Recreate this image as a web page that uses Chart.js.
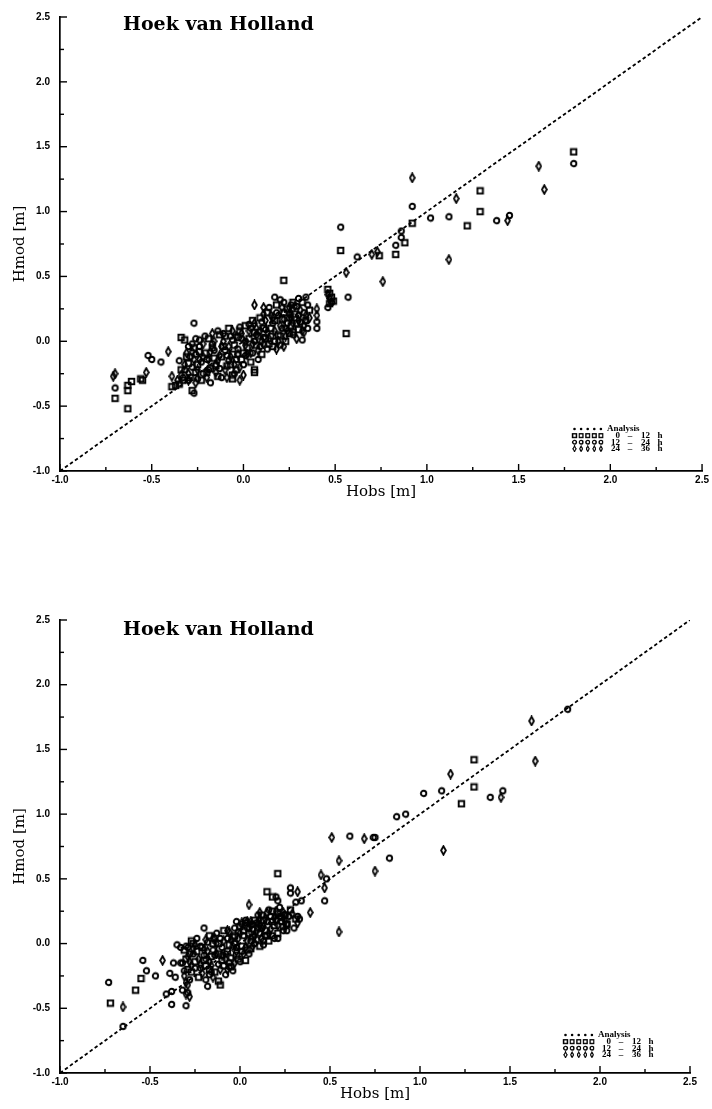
<!DOCTYPE html>
<html>
<head>
<meta charset="utf-8">
<script src="https://cdn.jsdelivr.net/npm/chart.js@4.4.1/dist/chart.umd.min.js"></script>
<style>
  html, body { margin: 0; padding: 0; background: #fff; }
  body { width: 712px; height: 1109px; position: relative; overflow: hidden; }
  .panel { position: absolute; left: 0; width: 712px; }
  #panelA { top: 0; height: 545px; }
  #panelB { top: 545px; height: 564px; }
  canvas { display: block; }
</style>
</head>
<body>
<div class="panel" id="panelA"><canvas id="chartA" width="712" height="545"></canvas></div>
<div class="panel" id="panelB"><canvas id="chartB" width="712" height="564"></canvas></div>
<script>
// ---- Station, axes and legend text ----
const stationName = 'Hoek van Holland';
const xAxisTitle = 'Hobs [m]';
const yAxisTitle = 'Hmod [m]';
const axisMin = -1.0;
const axisMax = 2.5;
const majorStep = 0.5;
const minorStep = 0.25;
const analysisLabel = 'Analysis';
const leadTimes = [[0, 12], [12, 24], [24, 36]];   // forecast windows in hours

// ---- Upper panel: observed vs modelled surge [m], pairs of [Hobs, Hmod] ----
const upperLead0to12 = [
  [1.80,1.46],[1.29,1.16],[1.29,1.00],[1.22,0.89],[0.92,0.91],[0.88,0.76],[0.83,0.67],[0.53,0.70],
  [0.74,0.66],[0.22,0.47],[0.56,0.06],[0.46,0.40],[0.47,0.37],[0.48,0.34],[0.49,0.31],[0.47,0.29],
  [0.27,0.07],[-0.70,-0.44],[-0.63,-0.34],[-0.61,-0.31],[-0.63,-0.38],[-0.63,-0.52],[-0.56,-0.29],
  [-0.55,-0.30],[-0.39,-0.35],[-0.37,-0.34],[-0.35,-0.33],[-0.28,-0.38],[-0.34,0.03],[-0.32,0.01],
  [0.06,-0.22],[0.06,-0.24],[-0.06,-0.26],[-0.06,-0.29],
  [-0.34,-0.22],[-0.31,-0.12],[-0.29,-0.28],[-0.27,-0.05],[-0.25,-0.18],[-0.23,-0.30],[-0.21,-0.09],
  [-0.19,0.02],[-0.18,-0.21],[-0.16,-0.13],[-0.14,-0.27],[-0.13,0.05],[-0.11,-0.04],[-0.09,-0.19],
  [-0.08,0.10],[-0.06,-0.10],[-0.04,-0.22],[-0.03,0.03],[-0.01,-0.14],[0.01,0.12],[0.02,-0.05],
  [0.04,-0.16],[0.06,0.07],[0.07,-0.03],[0.09,0.18],[0.10,-0.10],[0.12,0.02],[0.13,0.22],[0.15,0.10],
  [0.16,-0.04],[0.18,0.28],[0.19,0.05],[0.21,0.17],[0.23,0.00],[0.24,0.25],[0.26,0.12],[0.28,0.21],
  [0.30,0.09],[0.32,0.30],[0.34,0.16],
  [-0.33,-0.30],[-0.30,-0.17],[-0.26,-0.24],[-0.24,-0.08],[-0.20,-0.24],[-0.17,-0.05],[-0.15,-0.19],
  [-0.12,-0.12],[-0.10,0.04],[-0.07,-0.18],[-0.05,-0.03],[-0.02,0.08],[0.00,-0.09],[0.03,0.02],
  [0.05,0.16],[0.08,0.04],[0.11,0.10],[0.14,-0.02],[0.17,0.16],[0.20,0.04],[0.22,0.22],[0.25,0.06],
  [0.27,0.30],[0.29,0.14],[0.36,0.24]
];
const upperLead12to24 = [
  [1.80,1.37],[0.92,1.04],[1.12,0.96],[1.02,0.95],[1.38,0.93],[1.45,0.97],[0.86,0.85],[0.86,0.80],
  [0.83,0.74],[0.53,0.88],[0.62,0.65],[0.57,0.34],[-0.27,0.14],[-0.26,0.02],[-0.28,-0.02],[-0.24,-0.04],
  [-0.52,-0.11],[-0.50,-0.14],[-0.45,-0.16],[-0.70,-0.36],[0.17,0.34],[0.20,0.32],[0.30,0.33],[0.34,0.34],
  [0.40,0.15],[0.40,0.10],[0.32,0.01],[-0.30,-0.30],[-0.27,-0.40],[-0.18,-0.32],[0.46,0.26],[0.48,0.30],
  [-0.35,-0.15],[-0.33,-0.28],[-0.30,-0.04],[-0.28,-0.20],[-0.26,-0.10],[-0.24,0.01],[-0.22,-0.25],
  [-0.20,-0.14],[-0.17,-0.02],[-0.15,-0.18],[-0.14,0.08],[-0.12,-0.28],[-0.10,-0.07],[-0.08,-0.15],
  [-0.07,0.04],[-0.05,-0.25],[-0.03,-0.06],[-0.02,0.11],[0.00,-0.18],[0.01,0.00],[0.03,0.13],[0.05,-0.09],
  [0.07,0.05],[0.08,-0.14],[0.10,0.15],[0.11,0.03],[0.13,-0.06],[0.14,0.26],[0.16,0.14],[0.17,0.00],
  [0.19,0.20],[0.20,-0.03],[0.22,0.30],[0.23,0.10],[0.25,0.18],[0.27,0.05],[0.29,0.27],[0.31,0.15],
  [0.33,0.22],[0.35,0.10],
  [-0.32,-0.22],[-0.29,-0.12],[-0.25,-0.29],[-0.23,-0.16],[-0.21,0.04],[-0.19,-0.22],[-0.16,-0.07],
  [-0.13,-0.21],[-0.11,0.06],[-0.09,-0.11],[-0.06,0.01],[-0.04,-0.14],[-0.01,0.02],[0.01,-0.11],
  [0.04,0.10],[0.06,0.00],[0.09,-0.04],[0.12,0.09],[0.15,0.04],[0.18,0.22],[0.21,0.10],[0.24,0.14],
  [0.26,0.28],[0.30,0.20],[0.35,0.28]
];
const upperLead24to36 = [
  [1.61,1.35],[1.64,1.17],[0.92,1.26],[1.16,1.10],[1.44,0.93],[0.70,0.67],[0.73,0.69],[1.12,0.63],
  [0.56,0.53],[0.76,0.46],[0.06,0.28],[-0.41,-0.08],[-0.70,-0.25],[-0.71,-0.27],[-0.53,-0.24],[-0.39,-0.27],
  [-0.30,-0.30],[0.40,0.25],[0.40,0.20],[0.34,0.20],[0.34,0.16],[0.32,0.08],[0.22,-0.04],[0.26,0.21],
  [0.26,0.18],[0.11,0.26],[0.11,0.21],[0.25,0.26],[0.33,0.12],[-0.02,-0.30],[0.47,0.33],[0.46,0.36],
  [-0.36,-0.30],[-0.32,-0.18],[-0.30,-0.25],[-0.28,-0.08],[-0.26,-0.32],[-0.24,-0.14],[-0.22,-0.02],
  [-0.20,-0.28],[-0.18,-0.08],[-0.17,0.06],[-0.15,-0.24],[-0.13,-0.11],[-0.11,0.00],[-0.10,-0.22],
  [-0.08,-0.04],[-0.06,0.08],[-0.05,-0.18],[-0.03,-0.10],[-0.01,0.06],[0.00,-0.26],[0.02,-0.10],[0.03,0.08],
  [0.05,-0.02],[0.06,0.14],[0.08,-0.07],[0.09,0.08],[0.11,-0.02],[0.12,0.16],[0.14,0.02],[0.15,0.20],
  [0.17,0.08],[0.18,-0.06],[0.20,0.12],[0.21,0.26],[0.23,0.04],[0.25,0.21],[0.27,0.14],[0.29,0.02],
  [0.31,0.24],[0.33,0.07],
  [-0.34,-0.26],[-0.31,-0.09],[-0.27,-0.14],[-0.25,-0.22],[-0.22,-0.12],[-0.19,-0.14],[-0.16,0.00],
  [-0.14,-0.15],[-0.12,-0.04],[-0.09,-0.28],[-0.07,-0.12],[-0.04,0.04],[-0.02,-0.20],[0.01,-0.03],
  [0.04,-0.09],[0.07,0.10],[0.10,0.00],[0.13,0.07],[0.16,0.18],[0.19,0.00],[0.22,0.17],[0.24,0.08],
  [0.28,0.27],[0.30,0.16],[0.36,0.18]
];

// ---- Lower panel: observed vs modelled surge [m], pairs of [Hobs, Hmod] ----
const lowerLead0to12 = [
  [1.30,1.42],[1.30,1.21],[1.23,1.08],[0.21,0.54],[-0.55,-0.27],[-0.58,-0.36],[-0.72,-0.46],[-0.12,-0.29],
  [-0.11,-0.32],[0.25,0.22],[0.18,0.36],[0.15,0.40],[-0.26,0.00],[0.26,0.15],
  [-0.31,-0.05],[-0.29,-0.20],[-0.27,0.02],[-0.25,-0.14],[-0.23,-0.26],[-0.21,-0.03],[-0.19,-0.17],
  [-0.17,0.06],[-0.16,-0.10],[-0.14,-0.22],[-0.12,0.00],[-0.10,-0.13],[-0.09,0.10],[-0.07,-0.06],
  [-0.05,-0.18],[-0.04,0.05],[-0.02,-0.09],[0.00,0.13],[0.01,-0.02],[0.03,-0.13],[0.05,0.08],[0.06,-0.04],
  [0.08,0.18],[0.09,0.03],[0.11,-0.02],[0.12,0.22],[0.14,0.10],[0.16,0.02],[0.18,0.25],[0.19,0.14],
  [0.21,0.08],[0.23,0.20],[0.26,0.15],[0.28,0.26],[0.31,0.19],
  [-0.30,-0.12],[-0.27,-0.22],[-0.24,-0.06],[-0.20,-0.13],[-0.17,-0.20],[-0.15,0.00],[-0.12,-0.08],
  [-0.09,-0.17],[-0.06,-0.01],[-0.03,0.06],[-0.01,-0.12],[0.02,0.10],[0.04,-0.05],[0.07,0.05],
  [0.10,0.12],[0.13,0.18],[0.15,0.06],[0.18,0.17],[0.21,0.23],[0.24,0.13]
];
const lowerLead12to24 = [
  [1.82,1.81],[1.02,1.16],[1.12,1.18],[1.39,1.13],[1.46,1.18],[0.92,1.00],[0.87,0.98],[0.61,0.83],
  [0.74,0.82],[0.75,0.82],[0.83,0.66],[0.48,0.50],[0.47,0.33],[0.20,0.36],[0.21,0.33],[0.28,0.43],
  [0.28,0.39],[0.31,0.32],[0.34,0.33],[0.32,0.21],[0.33,0.19],[0.22,0.21],[0.25,0.22],[0.26,0.15],
  [0.26,0.10],[0.21,0.04],[0.19,0.04],[0.13,0.02],[-0.02,0.17],[0.01,0.15],[0.03,0.16],[0.07,0.15],
  [-0.20,0.12],[-0.35,-0.01],[-0.33,-0.03],[-0.29,-0.03],[-0.54,-0.13],[-0.52,-0.21],[-0.47,-0.25],
  [-0.37,-0.15],[-0.33,-0.15],[-0.39,-0.23],[-0.36,-0.26],[-0.73,-0.30],[-0.41,-0.39],[-0.38,-0.37],
  [-0.38,-0.47],[-0.30,-0.48],[-0.65,-0.64],[-0.32,-0.36],[-0.29,-0.38],[-0.19,-0.28],[-0.18,-0.33],
  [-0.04,-0.21],[-0.06,-0.18],
  [-0.32,-0.15],[-0.30,-0.02],[-0.28,-0.28],[-0.26,-0.08],[-0.24,0.04],[-0.22,-0.19],[-0.20,-0.09],
  [-0.18,0.01],[-0.17,-0.24],[-0.15,-0.05],[-0.13,0.08],[-0.12,-0.16],[-0.10,-0.03],[-0.08,-0.24],
  [-0.07,0.04],[-0.05,-0.11],[-0.03,0.12],[-0.02,-0.03],[0.00,-0.14],[0.02,0.06],[0.03,0.18],[0.05,-0.08],
  [0.07,0.11],[0.08,0.00],[0.10,0.22],[0.11,0.08],[0.13,-0.01],[0.15,0.17],[0.16,0.26],[0.18,0.06],
  [0.20,0.18],[0.22,0.28],[0.24,0.10],[0.27,0.21],[0.30,0.12],
  [-0.31,-0.21],[-0.28,-0.08],[-0.25,-0.19],[-0.22,-0.02],[-0.19,-0.12],[-0.16,-0.22],[-0.14,-0.09],
  [-0.11,0.04],[-0.08,-0.08],[-0.06,-0.15],[-0.03,0.00],[-0.01,0.09],[0.01,-0.06],[0.04,0.12],
  [0.06,0.02],[0.09,0.16],[0.12,0.12],[0.14,0.06],[0.17,0.21],[0.23,0.17]
];
const lowerLead24to36 = [
  [1.62,1.72],[1.64,1.41],[1.17,1.31],[1.45,1.13],[1.13,0.72],[0.51,0.82],[0.69,0.81],[0.55,0.64],
  [0.75,0.56],[0.45,0.53],[0.47,0.43],[0.32,0.40],[0.39,0.24],[0.05,0.30],[0.06,0.17],[-0.07,0.10],
  [-0.43,-0.13],[-0.65,-0.49],[0.55,0.09],[-0.28,-0.41],[-0.30,-0.39],[-0.29,-0.32],[0.11,0.24],[0.11,0.19],
  [0.04,0.17],[-0.15,0.04],
  [-0.31,-0.25],[-0.29,-0.10],[-0.27,-0.17],[-0.25,-0.01],[-0.23,-0.12],[-0.21,-0.23],[-0.19,0.03],
  [-0.18,-0.06],[-0.16,-0.17],[-0.14,0.04],[-0.13,-0.08],[-0.11,-0.20],[-0.09,0.02],[-0.08,-0.12],
  [-0.06,0.09],[-0.04,-0.02],[-0.03,-0.15],[-0.01,0.04],[0.01,0.16],[0.02,-0.08],[0.04,0.02],[0.06,0.14],
  [0.07,-0.02],[0.09,0.09],[0.10,0.16],[0.12,0.04],[0.13,0.13],[0.15,0.24],[0.17,0.11],[0.19,0.20],
  [0.21,0.14],[0.24,0.24],[0.25,0.17],[0.29,0.23],[0.32,0.16],
  [-0.30,-0.30],[-0.28,-0.14],[-0.26,-0.04],[-0.22,-0.16],[-0.20,-0.05],[-0.17,-0.14],[-0.15,-0.26],
  [-0.13,0.00],[-0.10,-0.09],[-0.07,-0.20],[-0.05,0.03],[-0.02,-0.06],[0.00,0.08],[0.03,-0.03],
  [0.05,0.12],[0.08,0.06],[0.11,0.14],[0.14,0.19],[0.16,0.08],[0.20,0.25]
];

// ---- Marker sprites (open square, open circle, narrow diamond) ----
function sprite(w, h, draw) {
  const c = document.createElement('canvas');
  c.width = w; c.height = h;
  const g = c.getContext('2d');
  g.strokeStyle = '#000';
  g.fillStyle = '#000';
  draw(g, w, h);
  return c;
}
const squareMark = sprite(9, 9, (g) => { g.lineWidth = 1.9; g.strokeRect(1.75, 1.75, 5.5, 5.5); });
const circleMark = sprite(9, 9, (g) => { g.lineWidth = 1.9; g.beginPath(); g.arc(4.5, 4.5, 2.7, 0, Math.PI * 2); g.stroke(); });
const diamondMark = sprite(7, 11, (g) => {
  g.lineWidth = 1.8; g.beginPath();
  g.moveTo(3.5, 1.2); g.lineTo(5.9, 5.5); g.lineTo(3.5, 9.8); g.lineTo(1.1, 5.5); g.closePath(); g.stroke();
});

const toPoints = (pairs) => pairs.map(([x, y]) => ({ x, y }));
const fmt = (v) => v.toFixed(1);

// ---- Small plugins: inward tick marks, panel heading, legend block ----
const inwardTicks = {
  id: 'inwardTicks',
  afterDraw(chart) {
    const { ctx, chartArea } = chart;
    const xs = chart.scales.x, ys = chart.scales.y;
    ctx.save();
    ctx.strokeStyle = '#000';
    ctx.lineWidth = 1.4;
    const n = Math.round((axisMax - axisMin) / minorStep);
    for (let i = 0; i <= n; i++) {
      const v = axisMin + i * minorStep;
      const len = (i % Math.round(majorStep / minorStep) === 0) ? 7 : 4;
      const py = ys.getPixelForValue(v);
      ctx.beginPath(); ctx.moveTo(chartArea.left, py); ctx.lineTo(chartArea.left + len, py); ctx.stroke();
      const px = xs.getPixelForValue(v);
      ctx.beginPath(); ctx.moveTo(px, chartArea.bottom); ctx.lineTo(px, chartArea.bottom - len); ctx.stroke();
    }
    ctx.restore();
  }
};

const panelHeading = {
  id: 'panelHeading',
  afterDraw(chart, args, opts) {
    const { ctx } = chart;
    ctx.save();
    ctx.fillStyle = '#000';
    ctx.font = 'bold 19px "DejaVu Serif"';
    ctx.textBaseline = 'middle';
    ctx.textAlign = 'left';
    ctx.fillText(opts.text, opts.x, opts.y);
    ctx.restore();
  }
};

const leadLegend = {
  id: 'leadLegend',
  afterDraw(chart, args, opts) {
    const { ctx } = chart;
    const x0 = opts.x, y0 = opts.y, dy = opts.rowGap;
    const marks = [null, squareMark, circleMark, diamondMark];
    ctx.save();
    ctx.fillStyle = '#000';
    ctx.strokeStyle = '#000';
    ctx.font = 'bold 9px "Liberation Serif"';
    ctx.textBaseline = 'middle';
    for (let r = 0; r < 4; r++) {
      const y = y0 + r * dy;
      for (let k = 0; k < 5; k++) {
        const mx = x0 + 2.5 + k * 6.6;
        if (r === 0) {
          ctx.beginPath(); ctx.arc(mx, y, 1.3, 0, Math.PI * 2); ctx.fill();
        } else {
          const m = marks[r];
          const s = r === 3 ? 0.62 : 0.68;
          ctx.drawImage(m, mx - m.width * s / 2, y - m.height * s / 2, m.width * s, m.height * s);
        }
      }
      if (r === 0) {
        ctx.textAlign = 'left';
        ctx.fillText(analysisLabel, x0 + 35, y);
      } else {
        const [a, b] = leadTimes[r - 1];
        ctx.textAlign = 'right';
        ctx.fillText(String(a), x0 + 48, y);
        ctx.textAlign = 'center';
        ctx.fillText('\u2013', x0 + 58, y);
        ctx.textAlign = 'right';
        ctx.fillText(String(b), x0 + 78, y);
        ctx.textAlign = 'center';
        ctx.fillText('h', x0 + 88, y);
      }
    }
    ctx.restore();
  }
};

// ---- One scatter panel ----
function buildPanel(canvasId, sets, geom) {
  const ctx = document.getElementById(canvasId);
  return new Chart(ctx, {
    type: 'scatter',
    data: {
      datasets: [
        { label: `${leadTimes[0][0]} - ${leadTimes[0][1]} h`, data: toPoints(sets[0]), pointStyle: squareMark, pointRadius: 3 },
        { label: `${leadTimes[1][0]} - ${leadTimes[1][1]} h`, data: toPoints(sets[1]), pointStyle: circleMark, pointRadius: 3 },
        { label: `${leadTimes[2][0]} - ${leadTimes[2][1]} h`, data: toPoints(sets[2]), pointStyle: diamondMark, pointRadius: 3 },
        {
          label: 'Hmod = Hobs',
          data: [{ x: axisMin, y: axisMin }, { x: axisMax, y: axisMax }],
          showLine: true, borderColor: '#000', borderWidth: 1.8, borderDash: [3.5, 2.6],
          pointRadius: 0, fill: false
        }
      ]
    },
    options: {
      responsive: false,
      devicePixelRatio: 1,
      animation: false,
      events: [],
      layout: { padding: { top: geom.top, right: geom.right, left: 0, bottom: 0 } },
      plugins: {
        legend: { display: false },
        tooltip: { enabled: false },
        panelHeading: { text: stationName, x: geom.headX, y: geom.headY },
        leadLegend: { x: geom.legX, y: geom.legY, rowGap: 6.6 }
      },
      scales: {
        x: {
          type: 'linear', min: axisMin, max: axisMax,
          grid: { display: false, drawTicks: false },
          border: { display: true, color: '#000', width: 1.7 },
          ticks: {
            stepSize: majorStep, autoSkip: false, maxRotation: 0, padding: 3,
            color: '#000', font: { family: 'Liberation Sans', weight: 'bold', size: 10 },
            callback: (v) => fmt(v)
          },
          title: {
            display: true, text: xAxisTitle, color: '#000',
            font: { family: 'DejaVu Serif', size: 15 },
            padding: { top: 0, bottom: geom.xTitlePad }
          },
          afterFit: (s) => { s.height = geom.xHeight; }
        },
        y: {
          type: 'linear', min: axisMin, max: axisMax,
          grid: { display: false, drawTicks: false },
          border: { display: true, color: '#000', width: 1.7 },
          ticks: {
            stepSize: majorStep, autoSkip: false, padding: 10,
            color: '#000', font: { family: 'Liberation Sans', weight: 'bold', size: 10 },
            callback: (v) => fmt(v)
          },
          title: {
            display: true, text: yAxisTitle, color: '#000',
            font: { family: 'DejaVu Serif', size: 15 },
            padding: { top: 11, bottom: 0 }
          },
          afterFit: (s) => { s.width = 60; }
        }
      }
    },
    plugins: [inwardTicks, panelHeading, leadLegend]
  });
}

buildPanel('chartA', [upperLead0to12, upperLead12to24, upperLead24to36], {
  top: 17, right: 9, xHeight: 74, xTitlePad: 44,
  headX: 123, headY: 25, legX: 572, legY: 429
});
buildPanel('chartB', [lowerLead0to12, lowerLead12to24, lowerLead24to36], {
  top: 75, right: 22, xHeight: 36, xTitlePad: 6,
  headX: 123, headY: 85, legX: 563, legY: 490
});
</script>
</body>
</html>
